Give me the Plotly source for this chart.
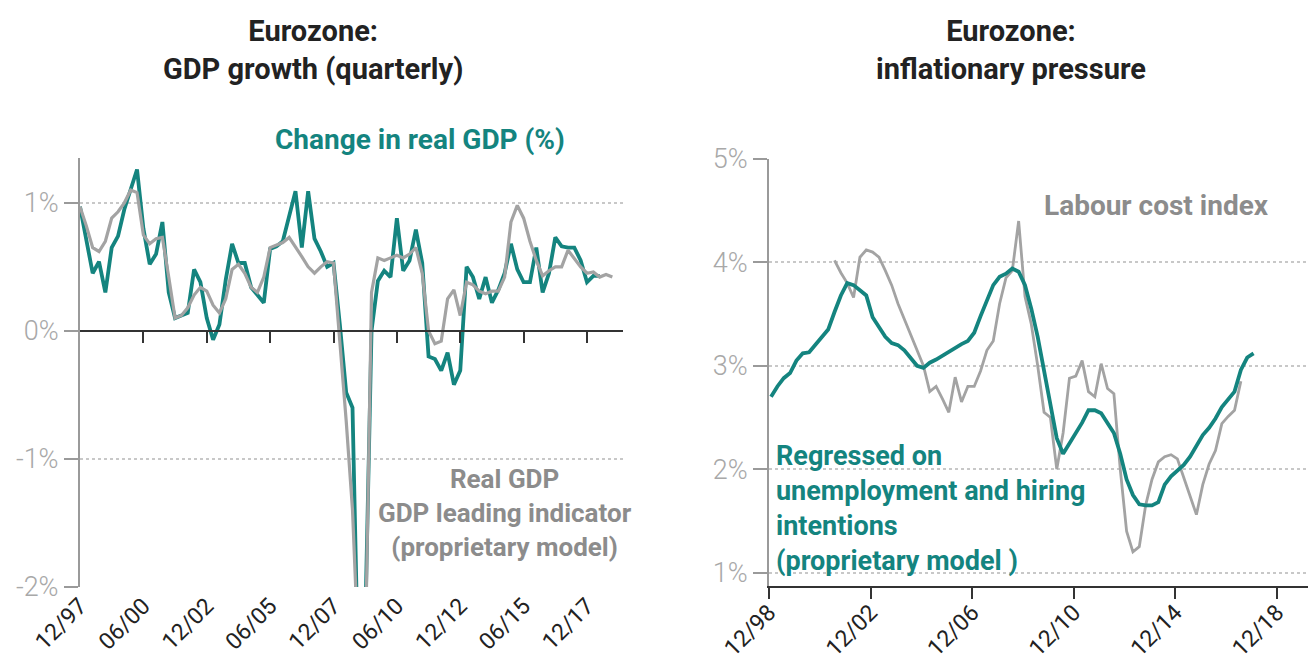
import plotly.graph_objects as go

# page body has an 8px margin, so the figure is a bit smaller than the window
W, H = 1308, 656
OFF = 8
TEAL = "#14847f"
GREY = "#a3a3a3"
FONT = "Roboto, sans-serif"

# ---- left: GDP growth, quarterly from Q4 1997
gdp_start = 1997.92
gdp_real = [0.97, 0.70, 0.45, 0.54, 0.30, 0.65, 0.74, 0.95, 1.10, 1.26,
            0.80, 0.52, 0.60, 0.85, 0.30, 0.10, 0.12, 0.14, 0.48, 0.38,
            0.10, -0.07, 0.05, 0.40, 0.68, 0.53, 0.53, 0.34, 0.28, 0.22,
            0.64, 0.66, 0.70, 0.90, 1.09, 0.65, 1.09, 0.72, 0.62, 0.50,
            0.53, 0.05, -0.48, -0.60, -2.90, -2.30, 0.00, 0.39, 0.47, 0.42,
            0.88, 0.47, 0.55, 0.79, 0.53, -0.20, -0.22, -0.31, -0.17, -0.42,
            -0.31, 0.50, 0.42, 0.25, 0.42, 0.22, 0.32, 0.45, 0.68, 0.48,
            0.38, 0.38, 0.65, 0.30, 0.45, 0.73, 0.66, 0.65, 0.65, 0.55,
            0.38, 0.43, 0.43]
gdp_lead = [0.97, 0.82, 0.65, 0.62, 0.70, 0.88, 0.93, 1.00, 1.10, 1.08,
            0.75, 0.68, 0.72, 0.73, 0.42, 0.10, 0.12, 0.18, 0.28, 0.34,
            0.31, 0.20, 0.14, 0.25, 0.48, 0.52, 0.45, 0.34, 0.30, 0.42,
            0.65, 0.67, 0.69, 0.73, 0.66, 0.58, 0.50, 0.45, 0.50, 0.54,
            0.53, -0.05, -0.70, -1.40, -2.60, -2.60, 0.30, 0.57, 0.55, 0.57,
            0.59, 0.57, 0.60, 0.65, 0.45, 0.00, -0.10, -0.08, 0.25, 0.32,
            0.12, 0.38, 0.36, 0.31, 0.29, 0.31, 0.31, 0.42, 0.85, 0.98,
            0.88, 0.70, 0.55, 0.43, 0.47, 0.50, 0.50, 0.63, 0.56, 0.50,
            0.45, 0.46, 0.42, 0.44, 0.42]
gdp_ticks = [1997.92, 2000.42, 2002.92, 2005.42, 2007.92, 2010.42, 2012.92, 2015.42, 2017.92]
gdp_ticktext = ["12/97", "06/00", "12/02", "06/05", "12/07", "06/10", "12/12", "06/15", "12/17"]

# ---- right: inflationary pressure, quarterly from Q1 1999
infl_start = 1999.0
regressed = [2.70, 2.80, 2.88, 2.93, 3.05, 3.12, 3.13, 3.20, 3.28, 3.35,
             3.52, 3.68, 3.80, 3.78, 3.73, 3.68, 3.47, 3.38, 3.28, 3.22,
             3.20, 3.15, 3.08, 3.00, 2.98, 3.03, 3.06, 3.10, 3.14, 3.18,
             3.21, 3.24, 3.32, 3.48, 3.62, 3.78, 3.86, 3.89, 3.94, 3.91,
             3.78, 3.55, 3.28, 2.95, 2.64, 2.30, 2.15, 2.25, 2.35, 2.45,
             2.57, 2.57, 2.54, 2.45, 2.35, 2.15, 1.90, 1.75, 1.66, 1.65,
             1.65, 1.68, 1.85, 1.93, 1.98, 2.04, 2.12, 2.23, 2.33, 2.40,
             2.49, 2.60, 2.68, 2.75, 2.96, 3.08, 3.12]
labour_offset = 10  # labour cost index starts 10 quarters later
labour = [4.02, 3.90, 3.80, 3.66, 4.05, 4.12, 4.10, 4.05, 3.92, 3.78,
          3.60, 3.45, 3.30, 3.15, 3.00, 2.75, 2.80, 2.68, 2.55, 2.89,
          2.65, 2.80, 2.80, 2.95, 3.15, 3.24, 3.60, 3.85, 3.92, 4.40,
          3.67, 3.40, 3.00, 2.55, 2.50, 2.00, 2.35, 2.88, 2.90, 3.05,
          2.75, 2.70, 3.02, 2.78, 2.73, 2.00, 1.40, 1.20, 1.25, 1.65,
          1.90, 2.07, 2.12, 2.14, 2.10, 1.92, 1.75, 1.56, 1.85, 2.05,
          2.18, 2.44, 2.51, 2.57, 2.85]
infl_ticks = [1998.92, 2002.92, 2006.92, 2010.92, 2014.92, 2018.92]
infl_ticktext = ["12/98", "12/02", "12/06", "12/10", "12/14", "12/18"]

gdp_x = [gdp_start + 0.25 * i for i in range(len(gdp_lead))]
reg_x = [infl_start + 0.25 * i for i in range(len(regressed))]
lab_x = [infl_start + 0.25 * (i + labour_offset) for i in range(len(labour))]


def px(x):
    return min(1.0, (x - OFF) / W)


def py(y):
    return 1 - (y - OFF) / H


fig = go.Figure()
fig.add_trace(go.Scatter(x=gdp_x[:len(gdp_real)], y=gdp_real, mode="lines",
                         line=dict(color=TEAL, width=3.8), xaxis="x", yaxis="y"))
fig.add_trace(go.Scatter(x=gdp_x, y=gdp_lead, mode="lines",
                         line=dict(color=GREY, width=3.2), xaxis="x", yaxis="y"))
fig.add_trace(go.Scatter(x=lab_x, y=labour, mode="lines",
                         line=dict(color=GREY, width=2.8), xaxis="x3", yaxis="y3"))
fig.add_trace(go.Scatter(x=reg_x, y=regressed, mode="lines",
                         line=dict(color=TEAL, width=3.8), xaxis="x3", yaxis="y3"))
# empty trace so the zero-line axis (x2) gets drawn
fig.add_trace(go.Scatter(x=[gdp_start], y=[0], mode="lines", xaxis="x2", yaxis="y",
                         line=dict(width=0), hoverinfo="skip"))

ytick_font = dict(family=FONT, size=27, color="#a8a8a8", weight=300)
xtick_font = dict(family=FONT, size=23, color="#222222")

left_dom = [py(587), py(158)]
left_rng = [-2, 1.35]
zero_pos = left_dom[0] + (0 - left_rng[0]) / (left_rng[1] - left_rng[0]) * (left_dom[1] - left_dom[0])

fig.update_layout(
    width=W, height=H, margin=dict(l=0, r=0, t=0, b=0, autoexpand=False),
    paper_bgcolor="white", plot_bgcolor="white", showlegend=False,
    xaxis=dict(domain=[px(80), px(623)], range=[1997.92, 2019.34],
               tickvals=gdp_ticks, ticktext=gdp_ticktext, tickangle=-45,
               tickfont=xtick_font, ticks="", showgrid=False, zeroline=False,
               showline=False, automargin=False),
    xaxis2=dict(domain=[px(80), px(623)], range=[1997.92, 2019.34], overlaying="x",
                anchor="free", position=zero_pos, tickvals=gdp_ticks[1:],
                showticklabels=False, ticks="outside", ticklen=11, tickwidth=2,
                tickcolor="#333333", showline=True, linecolor="#333333",
                linewidth=2, showgrid=False, zeroline=False, automargin=False),
    yaxis=dict(domain=left_dom, range=left_rng, tickvals=[-2, -1, 0, 1],
               ticktext=["-2%", "-1%", "0%", "1%"], tickfont=ytick_font,
               ticks="outside", ticklen=14, tickwidth=2, tickcolor="#9a9a9a",
               showline=True, linecolor="#9a9a9a", linewidth=2,
               showgrid=True, gridcolor="#c8c8c8", griddash="dot", gridwidth=1.5,
               zeroline=False, anchor="x", automargin=False),
    xaxis3=dict(domain=[px(769), px(1313)], range=[1998.92, 2020.34],
                tickvals=infl_ticks, ticktext=infl_ticktext, tickangle=-45,
                tickfont=xtick_font, ticks="outside", ticklen=11, tickwidth=2,
                tickcolor="#333333", showline=True, linecolor="#333333",
                linewidth=2, showgrid=False, zeroline=False, anchor="y3",
                ticklabelstandoff=-9, automargin=False),
    yaxis3=dict(domain=[py(586), py(159)], range=[0.87, 5.0],
                tickvals=[1, 2, 3, 4, 5], ticktext=["1%", "2%", "3%", "4%", "5%"],
                tickfont=ytick_font, ticks="outside", ticklen=14, tickwidth=2,
                tickcolor="#9a9a9a", showline=True, linecolor="#9a9a9a",
                linewidth=2, showgrid=True, gridcolor="#c8c8c8", griddash="dot",
                gridwidth=1.5, zeroline=False, anchor="x3", automargin=False),
)

title_font = dict(family=FONT, size=29, color="#222222")
notes = [
    dict(x=px(313), y=py(50), text="<b>Eurozone:<br>GDP growth (quarterly)</b>", font=title_font),
    dict(x=px(1011), y=py(50), text="<b>Eurozone:<br>inflationary pressure</b>", font=title_font),
    dict(x=px(420), y=py(140), text="<b>Change in real GDP (%)</b>",
         font=dict(family=FONT, size=28, color=TEAL)),
    dict(x=px(505), y=py(513), text="<b>Real GDP<br>GDP leading indicator<br>(proprietary model)</b>",
         font=dict(family=FONT, size=26, color="#8c8c8c")),
    dict(x=px(1156), y=py(205), text="<b>Labour cost index</b>",
         font=dict(family=FONT, size=28, color="#8c8c8c")),
    dict(x=px(774), y=py(508), xanchor="left", align="left",
         text="<b>Regressed on<br>unemployment and hiring<br>intentions<br>(proprietary model )</b>",
         font=dict(family=FONT, size=27, color=TEAL)),
]
for n in notes:
    n.setdefault("xanchor", "center")
    fig.add_annotation(xref="paper", yref="paper", yanchor="middle", showarrow=False, **n)

fig.write_html("out.html")
